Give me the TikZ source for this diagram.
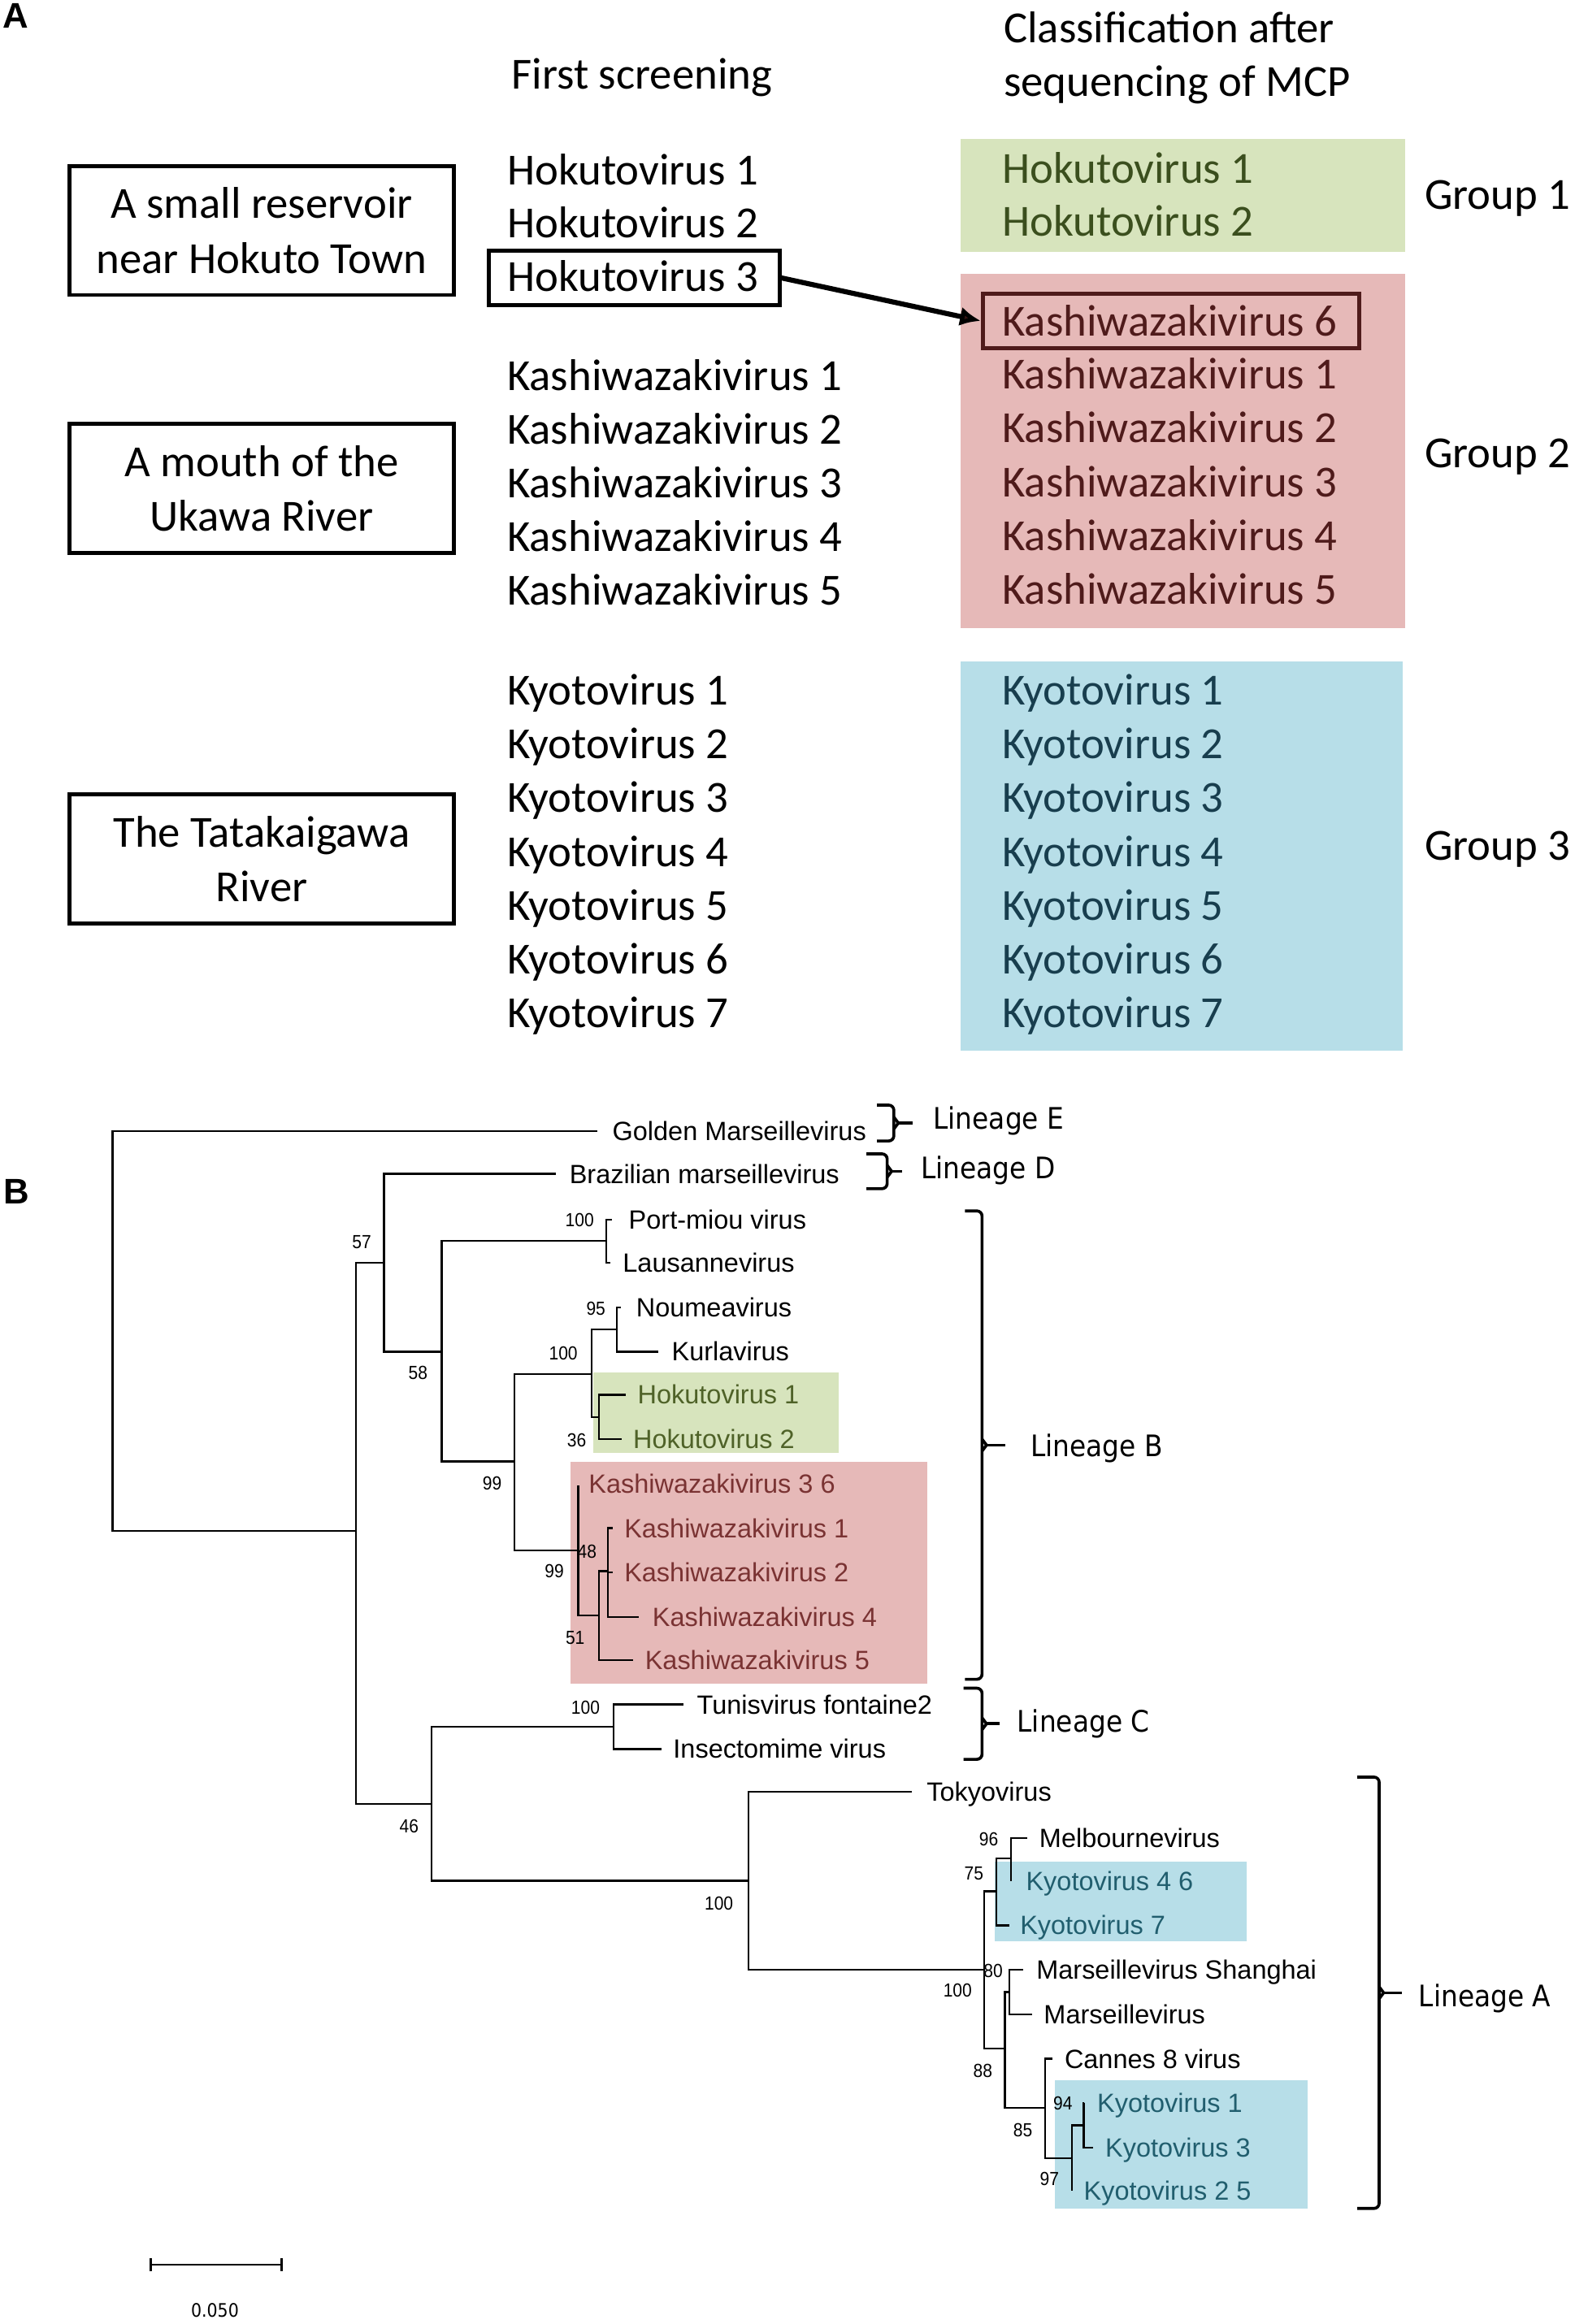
\documentclass[tikz,border=0pt]{standalone}
\usepackage{fontspec}
\setmainfont{Carlito}
\newfontfamily\treefont{Liberation Sans}
\newfontfamily\bsfont[FakeStretch=0.9]{Liberation Sans}
\newfontfamily\linfont[FakeStretch=0.9]{DejaVu Sans}
\usetikzlibrary{arrows.meta}

\definecolor{grfill}{HTML}{D7E4BD}
\definecolor{rdfill}{HTML}{E6B9B8}
\definecolor{blfill}{HTML}{B7DEE8}
\definecolor{grtext}{HTML}{3B4F1E}
\definecolor{rdtext}{HTML}{4F1B1B}
\definecolor{bltext}{HTML}{183E4E}
\definecolor{grtree}{HTML}{4F6228}
\definecolor{rdtree}{HTML}{7A3333}
\definecolor{bltree}{HTML}{215E6E}

\tikzset{
  lbl/.style={anchor=base west, inner sep=0, font=\fontsize{30}{36}\selectfont},
  site/.style={draw, line width=2.7pt, minimum width=259pt, minimum height=87pt, inner sep=0, align=center, font=\fontsize{30}{37}\selectfont},
  hl/.style={draw, line width=2.7pt, inner sep=0},
  branch/.style={line width=1.3pt},
  leaf/.style={anchor=base west, inner sep=0, font=\treefont\fontsize{17.8}{20}\selectfont},
  boot/.style={inner sep=0, font=\bsfont\fontsize{12.8}{14}\selectfont},
  lin/.style={anchor=base west, inner sep=0, font=\linfont\fontsize{20}{24}\selectfont},
  bracesty/.style={line width=2pt},
  panel/.style={anchor=base west, inner sep=0, font=\treefont\bfseries\fontsize{24}{28}\selectfont},
}

\begin{document}
\begin{tikzpicture}[x=1pt, y=-1pt]
\useasboundingbox (0,0) rectangle (1062,1568);
\fill[white] (0,0) rectangle (1062,1568);

% ---------------- Panel A ----------------
\node[panel] (pA) at (1.8,19) {A};

\node[lbl, anchor=base] (fs) at (433,60) {First screening};
\node[lbl] (ca1) at (677,29) {Classification after};
\node[lbl] (ca2) at (677,65) {sequencing of MCP};

\fill[grfill] (648,94) rectangle (948,170);
\fill[rdfill] (648,185) rectangle (948,424);
\fill[blfill] (648,446) rectangle (946,709);

\node[site] (s1) at (176.5,155.5) {A small reservoir\\near Hokuto Town};
\node[site] (s2) at (176.5,329.5) {A mouth of the\\Ukawa River};
\node[site] (s3) at (176.5,579.5) {The Tatakaigawa\\River};

% first screening list
\node[lbl] (fh1) at (342,124.5) {Hokutovirus 1};
\node[lbl] (fh2) at (342,160.5) {Hokutovirus 2};
\node[lbl] (fh3) at (342,196.5) {Hokutovirus 3};
\foreach \i in {1,...,5}
  \node[lbl] (fk\i) at (342,263.5+36.1*\i-36.1) {Kashiwazakivirus \i};
\foreach \i in {1,...,7}
  \node[lbl] (fy\i) at (342,475.5+36.33*\i-36.33) {Kyotovirus \i};

% classification list
\node[lbl, text=grtext] (ch1) at (676,123.5) {Hokutovirus 1};
\node[lbl, text=grtext] (ch2) at (676,159.5) {Hokutovirus 2};
\node[lbl, text=rdtext] (ck6) at (676,226.5) {Kashiwazakivirus 6};
\foreach \i in {1,...,5}
  \node[lbl, text=rdtext] (ck\i) at (676,262.5+36.25*\i-36.25) {Kashiwazakivirus \i};
\foreach \i in {1,...,7}
  \node[lbl, text=bltext] (cy\i) at (676,475.5+36.33*\i-36.33) {Kyotovirus \i};

\node[lbl] (g1) at (961,141) {Group 1};
\node[lbl] (g2) at (961,315.5) {Group 2};
\node[lbl] (g3) at (961,580.5) {Group 3};

\node[hl, minimum width=196pt, minimum height=37pt] (h3box) at (427.8,187.5) {};
\node[hl, draw=rdtext, minimum width=254pt, minimum height=37pt] (k6box) at (790,216.5) {};
\draw[line width=3.4pt, -{Latex[length=14pt,width=13pt,fill=rdtext!70!black]}] (h3box.east) -- (k6box.west);

% ---------------- Panel B ----------------
\node[panel] (pB) at (2,812) {B};

\fill[grfill] (400,926) rectangle (566,980.5);
\fill[rdfill] (385,986.5) rectangle (625.6,1136);
\fill[blfill] (671,1256) rectangle (841,1310);
\fill[blfill] (711.4,1403.5) rectangle (882,1490);

% tips and internal nodes
\foreach \n/\x/\y in {gold/403/763, braz/375/792, port/413/823, laus/412/852,
  noum/419/882, kurl/444/912, hok1/422/941, hok2/419.5/971, k36/390/1002,
  k1/413.5/1031, k2/413.5/1061, k4/431/1091, k5/427/1120, tun/461/1150,
  ins/446/1180, tok/615/1209, mel/693/1240, ky46/682/1269, ky7/681/1299,
  msh/690/1329, mar/696/1359, can/710/1389, ky1/731.5/1419, ky3/737.5/1449,
  ky25/723/1478,
  root/76/898, n240/240/1033, n259/259/852, n298/298/912, n409/409/837,
  n347/347/986, n399/399/927, n416/416/897, n404a/404/956, n390/390/1046,
  n404b/404/1090, n410/410/1060, n291/291/1217, n414/414/1165, n505/505/1269,
  n664/664/1329, n672/672/1276, n682/682/1254, n678/678/1382, n681/681/1344,
  n705/705/1422, n723/723/1456, n731/731/1434}
  \coordinate (\n) at (\x,\y);

\foreach \p/\c in {root/gold, root/n240, n240/n259, n240/n291, n259/braz, n259/n298,
  n298/n409, n298/n347, n409/port, n409/laus, n347/n399, n347/n390,
  n399/n416, n399/n404a, n416/noum, n416/kurl, n404a/hok1, n404a/hok2,
  n390/k36, n390/n404b, n404b/n410, n404b/k5, n410/k1, n410/k2, n410/k4,
  n291/n414, n291/n505, n414/tun, n414/ins, n505/tok, n505/n664,
  n664/n672, n664/n678, n672/n682, n672/ky7, n682/mel, n682/ky46,
  n678/n681, n678/n705, n681/msh, n681/mar, n705/can, n705/n723,
  n723/n731, n723/ky25, n731/ky1, n731/ky3}
  \draw[branch] (\p) |- (\c);

% leaf labels
\foreach \n/\x/\y/\t/\col in {gold/413/763/Golden Marseillevirus/black,
  braz/384/792/Brazilian marseillevirus/black,
  port/424/823/Port-miou virus/black,
  laus/420/852/Lausannevirus/black,
  noum/429/882/Noumeavirus/black,
  kurl/453/912/Kurlavirus/black,
  hok1/430/941/Hokutovirus 1/grtree,
  hok2/427/971/Hokutovirus 2/grtree,
  k36/397/1001/Kashiwazakivirus 3 6/rdtree,
  k1/421/1031/Kashiwazakivirus 1/rdtree,
  k2/421/1061/Kashiwazakivirus 2/rdtree,
  k4/440/1091/Kashiwazakivirus 4/rdtree,
  k5/435/1120/Kashiwazakivirus 5/rdtree,
  tun/470/1150/Tunisvirus fontaine2/black,
  ins/454/1180/Insectomime virus/black,
  tok/625/1209/Tokyovirus/black,
  mel/701/1240/Melbournevirus/black,
  ky46/692/1269/Kyotovirus 4 6/bltree,
  ky7/688/1299/Kyotovirus 7/bltree,
  msh/699/1329/Marseillevirus Shanghai/black,
  mar/704/1359/Marseillevirus/black,
  can/718/1389/Cannes 8 virus/black,
  ky1/740/1419/Kyotovirus 1/bltree,
  ky3/745.5/1449/Kyotovirus 3/bltree,
  ky25/731/1478/Kyotovirus 2 5/bltree}
  \node[leaf, text=\col] (L\n) at (\x,\y+6.3) {\t};

% bootstrap values
\foreach \n/\x/\y/\t in {b1/244/838/57, b2/282/926/58, b3/391/823/100, b4/402/883/95,
  b5/380/913/100, b6/389/972/36, b7/332/1001/99, b8/396/1047/48, b9/374/1060/99,
  b10/388/1105/51, b11/395/1152/100, b12/276/1232/46, b13/485/1284/100,
  b14/667/1241/96, b15/657/1264/75, b16/670/1330/80, b17/646/1343/100,
  b18/663/1397/88, b19/717/1419/94, b20/690/1437/85, b21/708/1470/97}
  \node[boot] (\n) at (\x,\y) {\t};

% lineage braces: end x / top y / bottom y / spine x / tip x
\foreach \nm/\xo/\yt/\yb/\xs/\xt in {E/591.6/745.6/769.8/603/615.8,
  D/584.5/778.5/802/598.5/608.6, B/651/817/1133/662.5/678,
  C/650/1139/1187/662.5/674.4, A/915.6/1199/1490/930.4/945.5}
{
  \coordinate (br\nm) at (\xt,{(\yt+\yb)/2});
  \draw[bracesty, rounded corners=3.5pt] (\xo,\yt) -- (\xs,\yt) -- (\xs,{(\yt+\yb)/2})
      -- (\xs,\yb) -- (\xo,\yb);
  \draw[bracesty, line join=miter] (\xs,{(\yt+\yb)/2-4}) -- ({\xs+3},{(\yt+\yb)/2})
      -- (\xs,{(\yt+\yb)/2+4});
  \draw[bracesty] ({\xs+3},{(\yt+\yb)/2}) -- (br\nm);
}
\node[lin] (linE) at (629.5,762) {Lineage E};
\node[lin] (linD) at (621,795.5) {Lineage D};
\node[lin] (linB) at (695,983) {Lineage B};
\node[lin] (linC) at (686,1168.7) {Lineage C};
\node[lin] (linA) at (957,1354) {Lineage A};

% scale bar
\coordinate (sb1) at (101,1528);
\coordinate (sb2) at (190.6,1528);
\draw[line width=1.3pt, {Bar[width=9pt]}-{Bar[width=9pt]}] (sb1) -- (sb2);
\node[inner sep=0, font=\linfont\fontsize{12.5}{14}\selectfont] (sbl) at (145,1559) {0.050};
\end{tikzpicture}
\end{document}
